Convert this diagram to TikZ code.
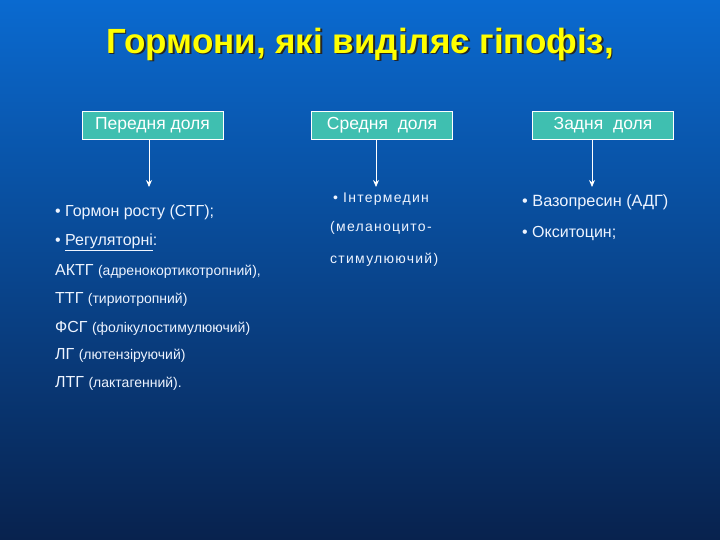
\documentclass[tikz,border=0pt]{standalone}
\usepackage{fontspec}
\setmainfont{Liberation Sans}
\usetikzlibrary{arrows.meta}
\definecolor{bgtop}{HTML}{0A6AD0}
\definecolor{bgbot}{HTML}{08224E}
\definecolor{lobeteal}{HTML}{3FBFB0}
\definecolor{titleyel}{HTML}{FFFF00}
\definecolor{txt}{HTML}{EEF4FF}
\newcommand\paren[1]{{\fontsize{14}{16}\selectfont #1}}
\newcommand\shadowed[1]{\rlap{\kern1.8pt\raisebox{-1.8pt}{\color{black!85}#1}}#1}

\begin{document}
\begin{tikzpicture}
[x=1pt,y=-1pt,>={Stealth[length=7pt,width=6pt]},
lobe/.style={draw=white,fill=lobeteal,line width=0.5pt,minimum width=141pt,minimum height=28pt,inner sep=0pt,text=white,font=\fontsize{17.5}{20}\selectfont},
item/.style={anchor=base west,inner sep=0pt,text=txt,font=\fontsize{16}{18}\selectfont},
midtext/.style={item,font=\fontsize{14}{16}\selectfont\addfontfeatures{LetterSpace=9}},]

%Background
\shade[top color=bgtop,bottom color=bgbot] (0,0) rectangle (720,540);
\useasboundingbox (0,0) rectangle (720,540);

%Title
\node (T) at (360,45) [text=titleyel,font=\fontsize{35}{40}\bfseries] {\shadowed{Гормони, які виділяє гіпофіз,}};

%Lobes
\node (P) at (152.5,125)[lobe] {Передня доля};
\node (S) at (382,125)[lobe] {Средня\ \ доля};
\node (Z) at (603,125)[lobe] {Задня\ \ доля};

%Arrow ends
\coordinate (Pe) at (149,187);
\coordinate (Se) at (376,187);
\coordinate (Ze) at (592,187);

\draw[->,white,line width=0.8pt] (P.south -| Pe)--(Pe);
\draw[->,white,line width=0.8pt] (S.south -| Se)--(Se);
\draw[->,white,line width=0.8pt] (Z.south -| Ze)--(Ze);

%Front lobe hormones
\node (P1) at (55,217)[item] {\textbullet\ Гормон росту (СТГ);};
\node (P2) at (55,245)[item] {\textbullet\ \underline{Регуляторні}:};
\node (P3) at (55,275)[item] {АКТГ \paren{(адренокортикотропний),}};
\node (P4) at (55,303)[item] {ТТГ \paren{(тириотропний)}};
\node (P5) at (55,332)[item] {ФСГ \paren{(фолікулостимулюючий)}};
\node (P6) at (55,359)[item] {ЛГ \paren{(лютензіруючий)}};
\node (P7) at (55,387)[item] {ЛТГ \paren{(лактагенний).}};

%Middle lobe
\node (S1) at (333,203)[midtext] {\textbullet\ Інтермедин};
\node (S2) at (330,232)[midtext] {(меланоцито-};
\node (S3) at (330,263)[midtext] {стимулюючий)};

%Back lobe
\node (Z1) at (522,207)[item,font=\fontsize{16.3}{18}\selectfont] {\textbullet\ Вазопресин (АДГ)};
\node (Z2) at (522,237)[item,font=\fontsize{16}{18}\selectfont] {\textbullet\ Окситоцин;};

\end{tikzpicture}
\end{document}
